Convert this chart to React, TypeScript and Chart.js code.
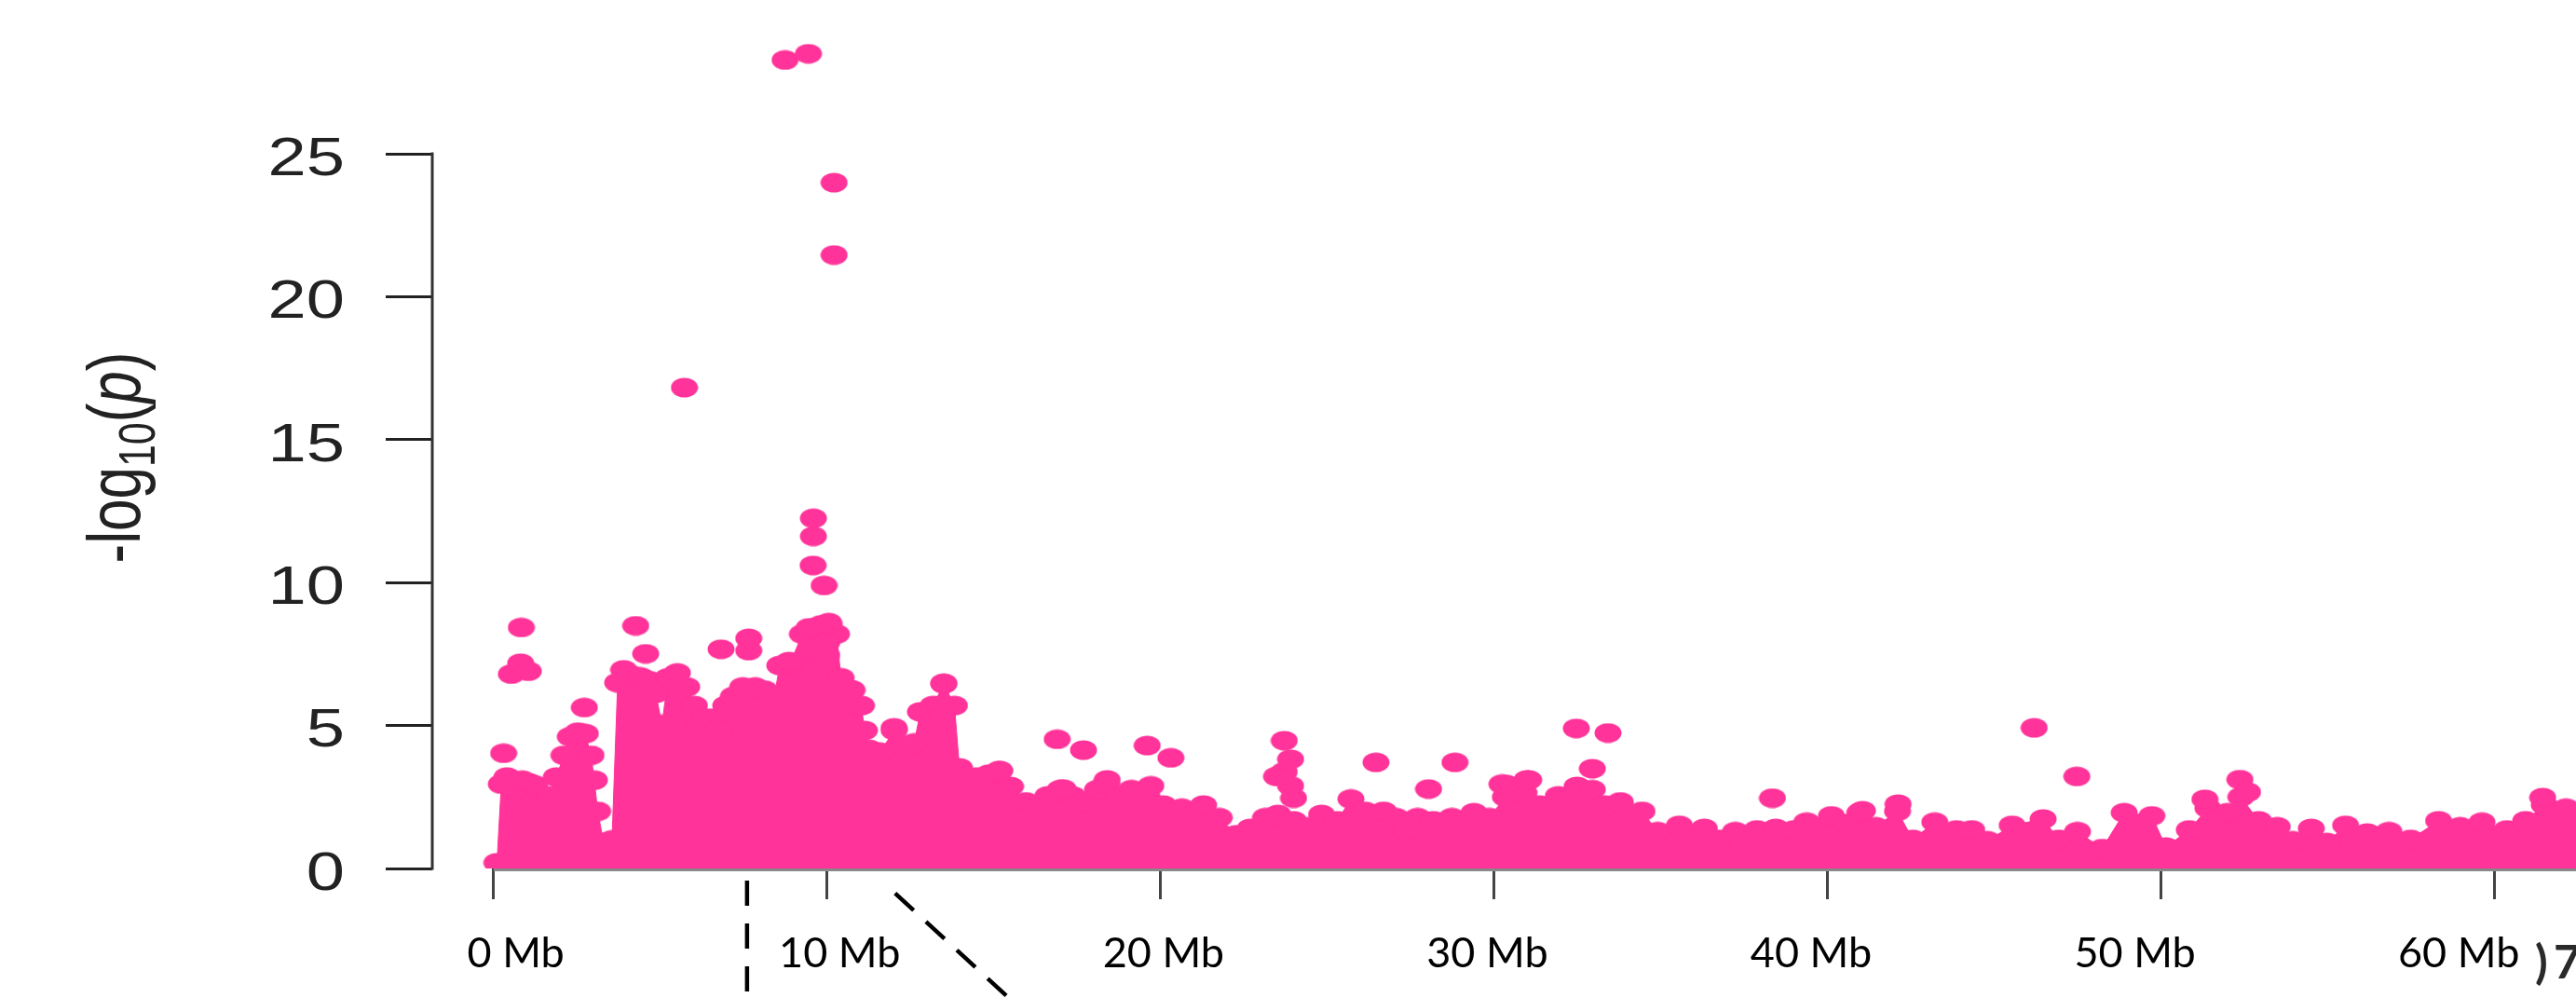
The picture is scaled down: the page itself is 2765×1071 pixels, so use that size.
import React, { useEffect, useRef } from "react";
import { Chart, registerables } from "chart.js";

Chart.register(...registerables);

const PINK = "#FF3399";

// Axis ticks
const X_TICKS = [0, 10, 20, 30, 40, 50, 60];
const X_TICK_LABELS = ["0 Mb", "10 Mb", "20 Mb", "30 Mb", "40 Mb", "50 Mb", "60 Mb"];
const Y_TICKS = [0, 5, 10, 15, 20, 25];
const Y_TICK_LABELS = ["0", "5", "10", "15", "20", "25"];

// Upper edge of the dense band of SNPs (position in Mb, -log10 p)
const BASE_MB = [
  0.1, 0.23, 0.4, 0.62, 0.86, 1.05, 1.23, 1.46, 1.69, 1.88, 2.11, 2.3, 2.53, 2.75, 2.92, 3.02, 3.12, 3.3, 3.55,
  3.72, 3.9, 4.1, 4.4, 4.67, 4.86, 5.05, 5.23, 5.51, 5.79, 6.02, 6.16, 6.35, 6.58, 6.77, 6.96, 7.19, 7.47, 7.84,
  8.12, 8.4, 8.58, 8.88, 9.26, 9.55, 9.82, 10.05, 10.28, 10.42, 10.75, 11.03, 11.12, 11.26, 11.59, 12.01, 12.29,
  12.61, 12.8, 13.18, 13.5, 13.82, 13.97, 14.47, 14.85, 15.17, 15.5, 15.96, 16.24, 16.62, 16.99, 17.36, 17.73,
  18.11, 18.38, 18.76, 19.13, 19.6, 20.08, 20.64, 21.29, 21.76, 22.27, 22.69, 23.15, 23.52, 23.99, 24.45, 24.83,
  25.3, 25.71, 26.13, 26.69, 27.06, 27.34, 27.71, 28.18, 28.74, 29.4, 29.86, 30.34, 30.9, 31.37, 31.93, 32.49,
  32.95, 33.33, 33.79, 34.44, 34.91, 35.56, 36.31, 36.77, 37.24, 37.89, 38.45, 39.0, 39.38, 40.12, 40.59, 40.97,
  41.45, 42.1, 42.56, 43.22, 43.87, 44.33, 44.8, 45.54, 46.47, 46.94, 47.5, 48.24, 48.9, 49.73, 50.15, 50.85,
  51.41, 51.8, 52.0, 52.4, 52.93, 53.49, 53.95, 54.51, 54.98, 55.54, 56.19, 56.84, 57.49, 58.33, 58.98, 59.63,
  60.38, 60.94, 61.5, 62.15, 62.9,
];
const BASE_LOGP = [
  0.2, 2.95, 3.2, 2.76, 3.09, 3.0, 2.92, 2.33, 2.54, 3.2, 3.96, 4.61, 4.77, 4.72, 3.96, 3.09, 2.0, 0.91, 1.0,
  6.5, 6.95, 6.78, 6.7, 6.57, 6.13, 5.04, 6.67, 6.84, 6.35, 5.7, 5.04, 5.26, 5.26, 4.83, 5.7, 6.02, 6.35, 6.35,
  6.24, 5.91, 7.1, 7.15, 8.2, 8.4, 8.52, 8.5, 8.2, 6.67, 6.24, 5.7, 4.83, 4.17, 4.07, 4.83, 4.28,
  4.39, 5.48, 5.7, 6.46, 5.7, 3.52, 3.2, 3.3, 3.41, 2.87, 2.33, 2.11, 2.54, 2.76, 2.54, 2.33,
  2.76, 2.98, 2.54, 2.76, 2.5, 2.22, 2.11, 2.22, 1.78, 1.18, 1.4, 1.78, 1.89, 1.67, 1.46, 1.89,
  1.67, 2.43, 2.0, 2.0, 1.78, 1.35, 1.78, 1.67, 1.78, 1.95, 1.78, 2.5, 2.65, 2.22, 2.54, 2.87,
  2.76, 2.22, 2.33, 2.0, 1.29, 1.51, 1.4, 1.02, 1.29, 1.35, 1.4, 1.35, 1.62, 1.84, 1.57, 1.95,
  1.46, 2.0, 1.02, 1.62, 1.35, 1.35, 0.97, 1.51, 1.73, 1.02, 1.29, 0.7, 1.95, 1.84, 0.75, 1.35,
  2.11, 1.8, 1.95, 2.5, 1.67, 1.46, 0.97, 1.4, 0.91, 1.51, 1.24, 1.29, 1.02, 1.67, 1.46, 1.62,
  1.35, 1.67, 2.22, 2.11, 2.0,
];

// Isolated / stand-out SNPs
const PEAK_MB = [
  8.74, 9.44, 10.21, 10.21, 5.72, 9.59, 9.59, 9.58, 9.91, 9.46, 10.05, 0.83, 4.26, 0.53, 0.81, 1.04, 0.3, 4.56,
  6.82, 7.65, 7.65, 2.72, 8.86, 9.99, 9.99, 10.7, 10.52, 12.01, 13.5, 13.4, 13.45, 15.17, 16.9, 17.69, 19.6,
  20.31, 19.71, 18.4, 17.08, 23.71, 23.9, 23.71, 23.9, 23.99, 23.48, 26.46, 28.83, 28.04, 30.24, 30.36, 31.04,
  32.47, 33.42, 32.95, 30.99, 38.35, 41.05, 42.12, 46.2, 47.48, 51.32, 52.37, 52.6, 61.45,
];
const PEAK_LOGP = [
  28.28, 28.5, 23.99, 21.46, 16.82, 12.25, 11.62, 10.6, 9.9, 8.42, 8.6, 8.43, 8.49, 6.8, 7.18, 6.9, 4.03, 7.51,
  7.67, 8.05, 7.62, 5.63, 7.24, 7.9, 7.46, 6.26, 5.72, 4.92, 6.48, 5.7, 5.3, 3.43, 4.52, 4.14, 4.3,
  3.87, 2.89, 3.1, 2.78, 4.47, 3.82, 3.38, 2.89, 2.46, 3.22, 3.71, 3.71, 2.78, 2.95, 2.94, 3.1,
  4.9, 4.74, 3.49, 3.1, 2.46, 2.02, 2.25, 4.92, 3.22, 2.42, 3.11, 2.67, 2.48,
];

// Dashed zoom guide lines below the axis
const GUIDE_V_MB = [7.6, 7.6];
const GUIDE_V_Y = [-0.42, -5];
const GUIDE_D_MB = [12.04, 15.89];
const GUIDE_D_Y = [-0.87, -5];

const pts = (xs: number[], ys: number[]) => xs.map((x, i) => ({ x, y: ys[i] }));

export default function App() {
  const ref = useRef<HTMLCanvasElement>(null);

  useEffect(() => {
    const canvas = ref.current;
    if (!canvas) return;

    const dot = document.createElement("canvas");
    dot.width = 30;
    dot.height = 22;
    const g = dot.getContext("2d")!;
    g.fillStyle = PINK;
    g.beginPath();
    g.ellipse(15, 11, 14.5, 10.5, 0, 0, Math.PI * 2);
    g.fill();

    const decor = {
      id: "rDecor",
      afterDraw(chart: any) {
        const ctx = chart.ctx as CanvasRenderingContext2D;
        const xs = chart.scales.x;
        const xl = chart.scales.xLabels;
        const ys = chart.scales.y;
        const area = chart.chartArea;
        ctx.save();
        // y axis line (first to last tick, R style)
        ctx.strokeStyle = "#333";
        ctx.lineWidth = 3;
        ctx.beginPath();
        ctx.moveTo(area.left, ys.getPixelForValue(Y_TICKS[0]) + 1.5);
        ctx.lineTo(area.left, ys.getPixelForValue(Y_TICKS[Y_TICKS.length - 1]) - 1.5);
        ctx.stroke();
        // x axis line
        ctx.strokeStyle = "#888";
        ctx.lineWidth = 3;
        ctx.beginPath();
        ctx.moveTo(xs.getPixelForValue(X_TICKS[0]), area.bottom + 1.5);
        ctx.lineTo(area.right, area.bottom + 1.5);
        ctx.stroke();
        // y tick labels
        ctx.fillStyle = "#222";
        ctx.font = '57px "Liberation Sans", Arial, sans-serif';
        ctx.textAlign = "right";
        ctx.textBaseline = "alphabetic";
        Y_TICKS.forEach((v, i) => {
          const py = ys.getPixelForValue(v);
          ctx.save();
          ctx.translate(370, py + 22.8);
          ctx.scale(1.3, 1);
          ctx.fillText(Y_TICK_LABELS[i], 0, 0);
          ctx.restore();
        });
        // x tick labels (placed on their own label scale)
        ctx.fillStyle = "#000";
        ctx.font = '45px Lato, "Open Sans", sans-serif';
        ctx.textAlign = "center";
        ctx.textBaseline = "alphabetic";
        X_TICK_LABELS.forEach((lab, i) => {
          ctx.fillText(lab, xl.getPixelForValue(i), 1038);
        });
        // y axis title: -log10(p)
        const S = 62;
        const parts = [
          { t: "-log", f: `${S}px "Liberation Sans", Arial, sans-serif`, dy: 0 },
          { t: "10", f: `${Math.round(S * 0.7)}px "Liberation Sans", Arial, sans-serif`, dy: S * 0.2 },
          { t: "(", f: `${S}px "Liberation Sans", Arial, sans-serif`, dy: 0 },
          { t: "p", f: `italic ${S}px "Liberation Sans", Arial, sans-serif`, dy: 0 },
          { t: ")", f: `${S}px "Liberation Sans", Arial, sans-serif`, dy: 0 },
        ];
        let total = 0;
        const widths = parts.map((p) => {
          ctx.font = p.f;
          const w = ctx.measureText(p.t).width;
          total += w;
          return w;
        });
        ctx.save();
        ctx.translate(150, 491);
        ctx.rotate(-Math.PI / 2);
        ctx.scale(1, 1.3);
        ctx.textAlign = "left";
        ctx.fillStyle = "#222";
        let cx = -total / 2;
        parts.forEach((p, i) => {
          ctx.font = p.f;
          ctx.fillText(p.t, cx, p.dy);
          cx += widths[i];
        });
        ctx.restore();
        // clipped label fragment at the right edge
        ctx.fillStyle = "#2a2a2a";
        ctx.font = 'bold 50px Lato, "Open Sans", sans-serif';
        ctx.textAlign = "left";
        ctx.fillText(")", 2721, 1050);
        ctx.fillText("7", 2741, 1050);
        ctx.restore();
      },
    };

    const chart = new Chart(canvas, {
      type: "scatter",
      data: {
        datasets: [
          {
            type: "scatter",
            data: pts(PEAK_MB, PEAK_LOGP),
            pointStyle: dot as any,
            pointRadius: 15,
            backgroundColor: PINK,
            borderColor: PINK,
            clip: 0,
            xAxisID: "x",
            yAxisID: "y",
          } as any,
          {
            type: "line",
            data: pts(BASE_MB, BASE_LOGP),
            pointStyle: dot as any,
            pointRadius: 15,
            backgroundColor: PINK,
            borderColor: PINK,
            borderWidth: 1,
            tension: 0,
            fill: "origin",
            clip: 0,
            xAxisID: "x",
            yAxisID: "y",
          } as any,
          {
            type: "line",
            data: pts(GUIDE_V_MB, GUIDE_V_Y),
            borderColor: "#000",
            borderWidth: 4.5,
            borderDash: [27, 19],
            pointRadius: 0,
            fill: false,
            clip: false,
            xAxisID: "x",
            yAxisID: "y",
          } as any,
          {
            type: "line",
            data: pts(GUIDE_D_MB, GUIDE_D_Y),
            borderColor: "#000",
            borderWidth: 4.5,
            borderDash: [27, 18],
            pointRadius: 0,
            fill: false,
            clip: false,
            xAxisID: "x",
            yAxisID: "y",
          } as any,
        ],
      },
      options: {
        responsive: false,
        animation: false,
        devicePixelRatio: 1,
        events: [],
        layout: { padding: 0, autoPadding: false },
        plugins: {
          legend: { display: false },
          tooltip: { enabled: false },
          title: { display: false },
        },
        scales: {
          x: {
            type: "linear",
            position: "bottom",
            weight: 0,
            min: -1.84,
            max: 62.45,
            afterBuildTicks: (s: any) => {
              s.ticks = X_TICKS.map((v) => ({ value: v }));
            },
            afterFit: (s: any) => {
              s.height = 34;
              s.paddingLeft = 0;
              s.paddingRight = 0;
            },
            grid: {
              display: true,
              drawOnChartArea: false,
              drawTicks: true,
              tickLength: 33,
              color: "#444",
              lineWidth: 3,
            },
            border: { display: false },
            ticks: { display: false },
          },
          xLabels: {
            type: "linear",
            axis: "x",
            position: "bottom",
            weight: 1,
            min: -0.258,
            max: 6.362,
            afterBuildTicks: (s: any) => {
              s.ticks = X_TICK_LABELS.map((_, i) => ({ value: i }));
            },
            afterFit: (s: any) => {
              s.height = 105;
              s.paddingLeft = 0;
              s.paddingRight = 0;
            },
            grid: { display: false, drawTicks: false },
            border: { display: false },
            ticks: { display: false },
          },
          y: {
            type: "linear",
            position: "left",
            min: 0,
            max: 30.38,
            afterBuildTicks: (s: any) => {
              s.ticks = Y_TICKS.map((v) => ({ value: v }));
            },
            afterFit: (s: any) => {
              s.width = 464;
              s.paddingTop = 0;
              s.paddingBottom = 0;
            },
            grid: {
              display: true,
              drawOnChartArea: false,
              drawTicks: true,
              tickLength: 50,
              color: "#222",
              lineWidth: 3,
            },
            border: { display: false },
            ticks: { display: false },
          },
        },
      } as any,
      plugins: [decor],
    });

    return () => chart.destroy();
  }, []);

  return (
    <div style={{ position: "absolute", left: 0, top: 0, width: 2765, height: 1071, background: "#fff" }}>
      <canvas ref={ref} width={2765} height={1071} style={{ display: "block", width: 2765, height: 1071 }} />
    </div>
  );
}
